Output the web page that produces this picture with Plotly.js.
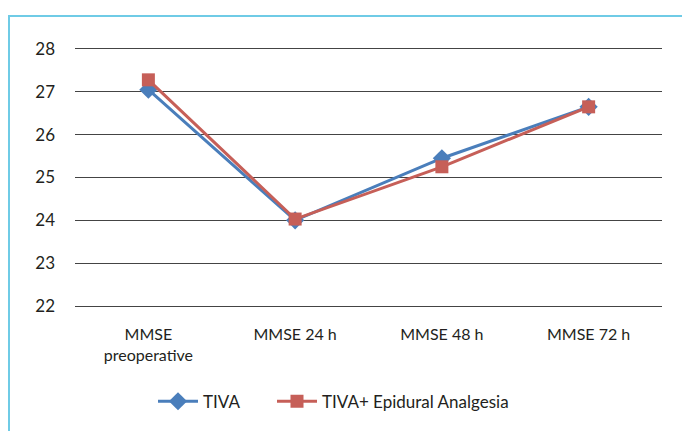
<!DOCTYPE html>
<html>
<head>
<meta charset="utf-8">
<script src="https://cdn.plot.ly/plotly-3.0.1.min.js"></script>
<style>
  html, body { margin: 0; padding: 0; background: #fff; }
  #wrap { position: relative; width: 682px; height: 431px; }
  #chart { width: 682px; height: 431px; }
  #frame { position: absolute; left: 8px; top: 15px; width: 700px; height: 440px;
           border-left: 2px solid #6fcbe6; border-top: 2px solid #6fcbe6; pointer-events: none; }
</style>
</head>
<body>
<div id="wrap">
  <div id="chart"></div>
  <div id="frame"></div>
</div>
<script>
const categories = ["MMSE<br>preoperative", "MMSE 24 h", "MMSE 48 h", "MMSE 72 h"];
const tivaValues = [27.05, 24.0, 25.45, 26.65];
const epiduralValues = [27.28, 24.03, 25.25, 26.65];
const seriesNames = ["TIVA", "TIVA+ Epidural Analgesia"];
const yTicks = [22, 23, 24, 25, 26, 27, 28];

const font = "Lato, 'Noto Sans', sans-serif";

const traces = [
  {
    x: categories, y: tivaValues, name: seriesNames[0], type: "scatter", mode: "lines+markers",
    line: { color: "#4a7ebb", width: 3 },
    marker: { symbol: "diamond", size: 14, color: "#4a7ebb" },
    legend: "legend"
  },
  {
    x: categories, y: epiduralValues, name: seriesNames[1], type: "scatter", mode: "lines+markers",
    line: { color: "#c65f58", width: 3 },
    marker: { symbol: "square", size: 13, color: "#c65f58" },
    legend: "legend2"
  }
];

const legendCommon = {
  orientation: "h", xanchor: "left", xref: "container",
  y: 0.068, yanchor: "middle", yref: "container",
  font: { family: font, size: 17, color: "#231f20" },
  itemwidth: 40, bgcolor: "rgba(0,0,0,0)"
};

const layout = {
  width: 682, height: 431,
  margin: { l: 75, r: 20, t: 49, b: 125 },
  paper_bgcolor: "#ffffff", plot_bgcolor: "#ffffff",
  font: { family: font, size: 16, color: "#231f20" },
  showlegend: true,
  legend: Object.assign({}, legendCommon, { x: 153 / 682 }),
  legend2: Object.assign({}, legendCommon, { x: 272 / 682 }),
  xaxis: {
    type: "category", range: [-0.5, 3.5],
    showgrid: false, zeroline: false, ticks: "",
    showline: true, mirror: true, linecolor: "#444444", linewidth: 1,
    ticklabelstandoff: 14,
    tickfont: { family: font, size: 16, color: "#231f20" },
    fixedrange: true
  },
  yaxis: {
    range: [22, 28], tickvals: yTicks, ticktext: yTicks.map(String),
    showgrid: true, gridcolor: "#444444", gridwidth: 1,
    zeroline: false, showline: false, ticks: "",
    ticklabelstandoff: 19,
    tickfont: { family: font, size: 17, color: "#231f20" },
    fixedrange: true
  }
};

Plotly.newPlot("chart", traces, layout, { displayModeBar: false, staticPlot: true });
</script>
</body>
</html>
